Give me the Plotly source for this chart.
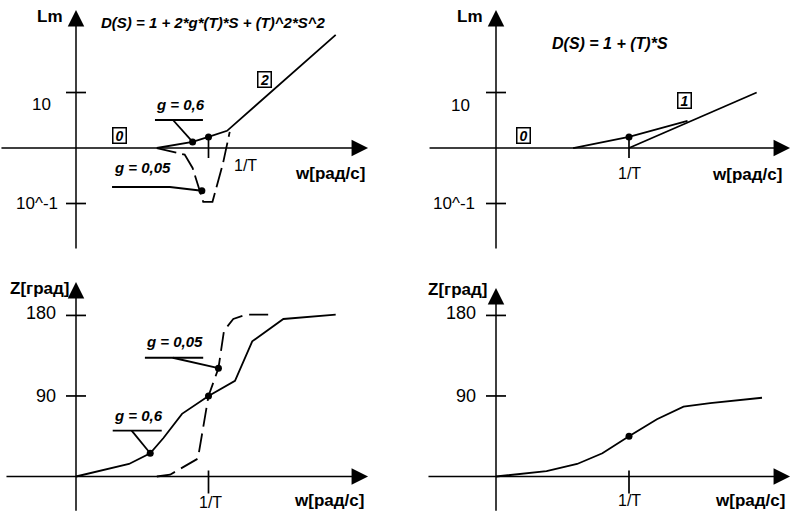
import plotly.graph_objects as go

FONT = "Liberation Sans, Arial, sans-serif"
INK = "black"
LW = 1.8

# Frequency axis: lg(w) in decades, ordinate axis at 0, corner frequency 1/T at 1.
W_CORNER = 1.0

# --- Panel 1: D(S) = 1 + 2*g*T*S + T^2*S^2, log-magnitude (decades) ---
lm2_g06_w = [0.61, 0.88, 1.0, 1.14, 1.96]
lm2_g06_lm = [0.0, 0.11, 0.2, 0.31, 2.04]
lm2_g005_w = [0.61, 0.82, 0.88, 0.96, 1.03, 1.11, 1.16]
lm2_g005_lm = [0.0, -0.12, -0.36, -0.97, -0.97, -0.27, 0.29]
lm2_dot_w = [0.88, 1.0, 0.95]
lm2_dot_lm = [0.11, 0.2, -0.77]

# --- Panel 2: D(S) = 1 + T*S, log-magnitude ---
lm1_w = [0.58, 1.0, 1.44]
lm1_lm = [0.0, 0.2, 0.49]
lm1_asym_w = [1.0, 1.96]
lm1_asym_lm = [0.0, 1.0]
lm1_dot_w = [1.0]
lm1_dot_lm = [0.2]

# --- Panel 3: phase of the second-order term (degrees) ---
ph2_g06_w = [0.0, 0.40, 0.56, 0.66, 0.80, 1.0, 1.2, 1.33, 1.565, 1.96]
ph2_g06_deg = [0, 14, 26, 43, 70, 90, 107, 151, 176, 181]
ph2_g005_w = [0.61, 0.71, 0.92, 1.0, 1.075, 1.117, 1.187, 1.288, 1.477]
ph2_g005_deg = [0, 2, 20, 90, 121, 163, 176, 181, 181]
ph2_dot_w = [0.56, 1.0, 1.075]
ph2_dot_deg = [26, 90, 121]

# --- Panel 4: phase of the first-order term ---
ph1_w = [0.0, 0.38, 0.61, 0.80, 1.0, 1.21, 1.41, 1.61, 2.0]
ph1_deg = [0, 6, 14, 26, 45, 64, 78, 82, 88]
ph1_dot_w = [1.0]
ph1_dot_deg = [45]

# Tick values and texts
lm_ticks = [1, -1]
lm_ticktext = ["10", "10^-1"]
ph_ticks = [180, 90]
ph_ticktext = ["180", "90"]

# Callout labels: (text, x, y) and leader polylines
lm2_labels = [("g = 0,6", 0.79, 0.79), ("g = 0,05", 0.50, -0.36)]
lm2_leader_w = [0.596, 0.958, None, 0.732, 0.88, None, 0.272, 0.709, 0.95]
lm2_leader_lm = [0.505, 0.505, None, 0.505, 0.11, None, -0.703, -0.703, -0.77]
ph2_labels = [("g = 0,05", 0.74, 150.6), ("g = 0,6", 0.468, 68.7)]
ph2_leader_w = [0.52, 0.96, None, 0.73, 1.075, None, 0.277, 0.647, None, 0.42, 0.56]
ph2_leader_deg = [132.7, 132.7, None, 132.7, 121, None, 51.2, 51.2, None, 51.2, 26]

fig = go.Figure()


def line(xa, ya, x, y, dash="solid"):
    fig.add_trace(go.Scatter(x=x, y=y, xaxis=xa, yaxis=ya, mode="lines",
                             line=dict(color=INK, width=LW, dash=dash),
                             hoverinfo="skip", connectgaps=False))


def dots(xa, ya, x, y):
    fig.add_trace(go.Scatter(x=x, y=y, xaxis=xa, yaxis=ya, mode="markers",
                             marker=dict(color=INK, size=7), hoverinfo="skip"))


# Panel 1
line("x", "y", lm2_g06_w, lm2_g06_lm)
line("x", "y", lm2_g005_w, lm2_g005_lm, dash="20px,6px")
line("x", "y", lm2_leader_w, lm2_leader_lm)
dots("x", "y", lm2_dot_w, lm2_dot_lm)
# Panel 2
line("x2", "y2", lm1_w, lm1_lm)
line("x2", "y2", lm1_asym_w, lm1_asym_lm)
dots("x2", "y2", lm1_dot_w, lm1_dot_lm)
# Panel 3
line("x3", "y3", ph2_g06_w, ph2_g06_deg)
line("x3", "y3", ph2_g005_w, ph2_g005_deg, dash="19px,7px")
line("x3", "y3", ph2_leader_w, ph2_leader_deg)
dots("x3", "y3", ph2_dot_w, ph2_dot_deg)
# Panel 4
line("x4", "y4", ph1_w, ph1_deg)
dots("x4", "y4", ph1_dot_w, ph1_dot_deg)

annotations = []
shapes = []


def text(xr, yr, x, y, s, size=16, xanchor="center", xshift=0, yshift=0, **kw):
    annotations.append(dict(xref=xr, yref=yr, x=x, y=y, text=s, showarrow=False,
                            xanchor=xanchor, yanchor="middle", xshift=xshift, yshift=yshift,
                            font=dict(family=FONT, size=size, color=INK), **kw))


def arrow(xr, yr, x0, y0, x1, y1):
    annotations.append(dict(xref=xr, yref=yr, axref=xr, ayref=yr, x=x1, y=y1, ax=x0, ay=y0,
                            text="", showarrow=True, arrowhead=2, arrowsize=2.2,
                            arrowwidth=1.5, arrowcolor=INK))


def tick_y(xr, yr, v):
    shapes.append(dict(type="line", xref=xr, yref=yr, xsizemode="pixel", xanchor=0,
                       x0=-10, x1=10, y0=v, y1=v, line=dict(color=INK, width=1.7)))


def tick_x(xr, yr, below, above):
    shapes.append(dict(type="line", xref=xr, yref=yr, ysizemode="pixel", yanchor=0,
                       x0=W_CORNER, x1=W_CORNER, y0=-below, y1=above,
                       line=dict(color=INK, width=1.7)))


def boxed(xr, yr, x, y, s):
    annotations.append(dict(xref=xr, yref=yr, x=x, y=y, text="<b><i>" + s + "</i></b>",
                            showarrow=False, width=12, height=14, borderpad=0,
                            bordercolor=INK, borderwidth=1.5,
                            font=dict(family=FONT, size=14, color=INK)))


# Axes frames (with arrow heads)
frames = [
    ("x", "y", (-0.574, 2.204), (-1.838, 2.486)),
    ("x2", "y2", (-0.511, 2.211), (-1.838, 2.486)),
    ("x3", "y3", (-0.536, 2.204), (-40, 217.3)),
    ("x4", "y4", (-0.519, 2.211), (-40, 210.6)),
]
for xr, yr, (xa, xb), (ya, yb) in frames:
    arrow(xr, yr, xa, 0, xb, 0)
    arrow(xr, yr, 0, ya, 0, yb)

# Magnitude panels: ticks and labels
for xr, yr, shifts10, shifts01 in [("x", "y", (-23, -12), -16), ("x2", "y2", (-24, -13), -19)]:
    for v in lm_ticks:
        tick_y(xr, yr, v)
    text(xr, yr, 0, lm_ticks[0], lm_ticktext[0], size=17, xanchor="right",
         xshift=shifts10[0], yshift=shifts10[1])
    text(xr, yr, 0, lm_ticks[1], lm_ticktext[1], size=17, xanchor="right", xshift=shifts01)

# Phase panels
for xr, yr in [("x3", "y3"), ("x4", "y4")]:
    for v in ph_ticks:
        tick_y(xr, yr, v)
    text(xr, yr, 0, ph_ticks[0], ph_ticktext[0], size=18, xanchor="right", xshift=-18, yshift=2)
    text(xr, yr, 0, ph_ticks[1], ph_ticktext[1], size=18, xanchor="right", xshift=-18)

# 1/T ticks and labels
tick_x("x", "y", 10, 11)
tick_x("x2", "y2", 10, 11)
tick_x("x3", "y3", 17, 6)
tick_x("x4", "y4", 17, 6)
text("x", "y", W_CORNER, 0, "1/T", size=16, xshift=37, yshift=-17)
text("x2", "y2", W_CORNER, 0, "1/T", size=16, yshift=-25)
text("x3", "y3", W_CORNER, 0, "1/T", size=16, xshift=2, yshift=-26)
text("x4", "y4", W_CORNER, 0, "1/T", size=16, yshift=-24)

# Axis titles
text("x", "y", 1.917, -0.468, "<b>w[рад/с]</b>", size=17)
text("x2", "y2", 1.887, -0.486, "<b>w[рад/с]</b>", size=17)
text("x3", "y3", 1.909, -26.3, "<b>w[рад/с]</b>", size=17)
text("x4", "y4", 1.91, -26.3, "<b>w[рад/с]</b>", size=17)
text("x", "y", -0.196, 2.378, "<b>Lm</b>", size=17)
text("x2", "y2", -0.195, 2.378, "<b>Lm</b>", size=17)
text("x3", "y3", -0.279, 210.6, "<b>Z[град]</b>", size=17)
text("x4", "y4", -0.286, 209.5, "<b>Z[град]</b>", size=17)

# Transfer function headings
text("x", "y", 1.034, 2.27, "<b><i>D(S) = 1 + 2*g*(T)*S + (T)^2*S^2</i></b>", size=15)
text("x2", "y2", 0.857, 1.89, "<b><i>D(S) = 1 + (T)*S</i></b>", size=16)

# Callouts
for s, x, y in lm2_labels:
    text("x", "y", x, y, "<b><i>" + s + "</i></b>", size=15)
for s, x, y in ph2_labels:
    text("x3", "y3", x, y, "<b><i>" + s + "</i></b>", size=15)

# Asymptote slope boxes
boxed("x", "y", 0.33, 0.23, "0")
boxed("x", "y", 1.42, 1.24, "2")
boxed("x2", "y2", 0.21, 0.23, "0")
boxed("x2", "y2", 1.414, 0.865, "1")

ax_common = dict(visible=False, showgrid=False, zeroline=False, fixedrange=True)
TOP = [1 - 255 / 511, 1.0]
BOT = [0.0, 255 / 511]
fig.update_layout(
    width=794, height=511, margin=dict(l=0, r=0, t=0, b=0),
    paper_bgcolor="white", plot_bgcolor="white", showlegend=False,
    xaxis=dict(domain=[0, 0.5], range=[-0.5736, 2.4226], anchor="y", **ax_common),
    yaxis=dict(domain=TOP, range=[-1.928, 2.667], anchor="x", **ax_common),
    xaxis2=dict(domain=[0.5, 1], range=[-0.7444, 2.2406], anchor="y2", **ax_common),
    yaxis2=dict(domain=TOP, range=[-1.928, 2.667], anchor="x2", **ax_common),
    xaxis3=dict(domain=[0, 0.5], range=[-0.5736, 2.4226], anchor="y3", **ax_common),
    yaxis3=dict(domain=BOT, range=[-38.55, 246.4], anchor="x3", **ax_common),
    xaxis4=dict(domain=[0.5, 1], range=[-0.7444, 2.2406], anchor="y4", **ax_common),
    yaxis4=dict(domain=BOT, range=[-38.55, 246.4], anchor="x4", **ax_common),
    annotations=annotations, shapes=shapes,
)

fig.write_html("out.html")
